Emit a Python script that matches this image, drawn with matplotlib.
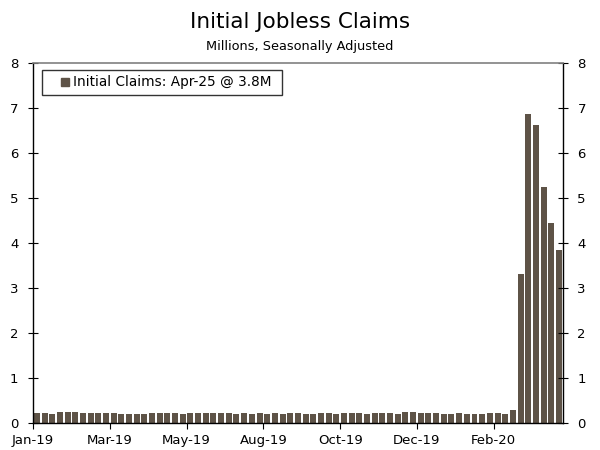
import numpy as np
import matplotlib
matplotlib.use('Agg')
import matplotlib.pyplot as plt
from matplotlib.lines import Line2D

# ----------------------------------------------------------------------------------------------------
# データ (週次, 百万件, 季節調整済み) 2019-01-05 ～ 2020-04-25
# ----------------------------------------------------------------------------------------------------
claims_2019 = [0.216, 0.213, 0.199, 0.253, 0.234, 0.239, 0.216, 0.225, 0.223, 0.229,
               0.221, 0.211, 0.202, 0.196, 0.192, 0.230, 0.230, 0.228, 0.212, 0.211,
               0.215, 0.218, 0.222, 0.216, 0.227, 0.221, 0.209, 0.216, 0.206, 0.215,
               0.209, 0.220, 0.209, 0.215, 0.217, 0.204, 0.208, 0.213, 0.219, 0.210,
               0.214, 0.212, 0.218, 0.211, 0.225, 0.227, 0.213, 0.203, 0.252, 0.234,
               0.222, 0.220]
claims_2020 = [0.214, 0.204, 0.211, 0.216, 0.202, 0.205, 0.210, 0.219, 0.216, 0.211,
               0.282, 3.307, 6.867, 6.615, 5.237, 4.442, 3.846]
claims = claims_2019 + claims_2020

tick_idx = [0, 10, 20, 30, 40, 50, 60]
tick_labels = ['Jan-19', 'Mar-19', 'May-19', 'Aug-19', 'Oct-19', 'Dec-19', 'Feb-20']
y_ticks = [0, 1, 2, 3, 4, 5, 6, 7, 8]
legend_label = 'Initial Claims: Apr-25 @ 3.8M'

BAR_COLOR = '#5e5347'

# ----------------------------------------------------------------------------------------------------
# グラフ描画
# ----------------------------------------------------------------------------------------------------
fig = plt.figure(figsize=(6, 4.5), dpi=100)
ax = fig.add_axes([0.055, 0.06, 0.883, 0.8])

x = np.arange(len(claims))
ax.bar(x, claims, width=0.78, color=BAR_COLOR)

ax.set_xlim(-0.5, len(claims) - 0.5)
ax.set_ylim(0, 8)
ax.set_xticks([i - 0.5 for i in tick_idx])
ax.set_xticklabels(tick_labels, fontsize=9.5)
ax.set_yticks(y_ticks)
ax.tick_params(axis='y', direction='inout', length=7, labelsize=9.5,
               left=True, right=True, labelleft=True, labelright=True, pad=7)
ax.tick_params(axis='x', direction='out', length=4, labelsize=9.5, pad=4)

for side in ['left', 'right', 'bottom']:
	ax.spines[side].set_color('black')
	ax.spines[side].set_linewidth(1.0)
ax.spines['top'].set_color('#808080')
ax.spines['top'].set_linewidth(1.2)

# 凡例 (四角マーカー)
handle = Line2D([], [], linestyle='none', marker='s', markersize=5.5,
                markerfacecolor=BAR_COLOR, markeredgecolor=BAR_COLOR)
leg = ax.legend([handle], [legend_label + ' '], loc='upper left',
                bbox_to_anchor=(0.017, 0.9806), fontsize=9.8, frameon=True,
                fancybox=False, handlelength=2.6, handletextpad=-0.7,
                borderpad=0.4, borderaxespad=0.0)
leg.get_frame().set_edgecolor('black')
leg.get_frame().set_linewidth(1.0)

fig.text(0.5, 0.95, 'Initial Jobless Claims', ha='center', va='center', fontsize=15.5)
fig.text(0.5, 0.897, 'Millions, Seasonally Adjusted', ha='center', va='center', fontsize=9.3)

plt.savefig('out.png', dpi=100)
plt.close(fig)
